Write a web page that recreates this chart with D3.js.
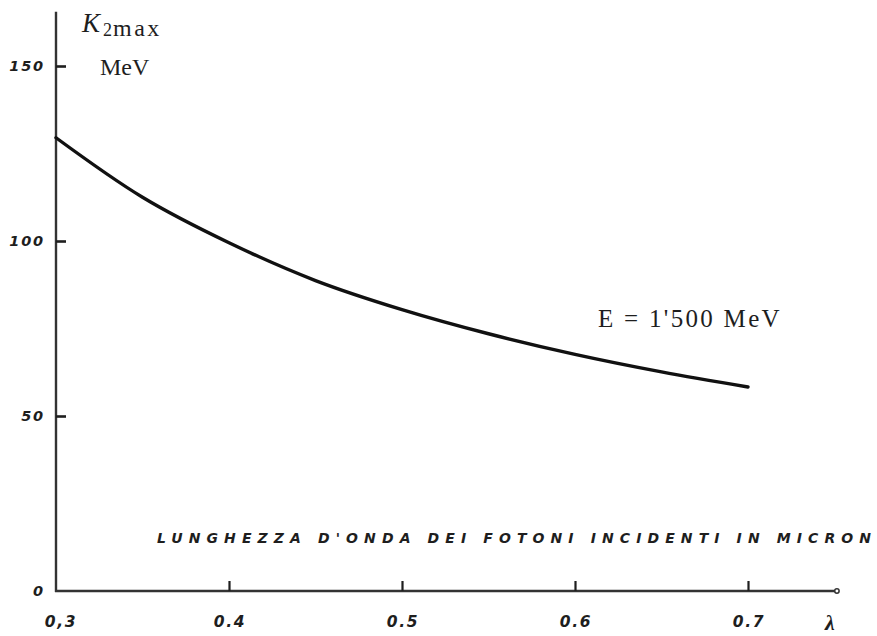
<!DOCTYPE html>
<html>
<head>
<meta charset="utf-8">
<script src="https://cdn.jsdelivr.net/npm/d3@7"></script>
<style>
  html, body { margin: 0; padding: 0; background: #fff; }
  svg { display: block; }
</style>
</head>
<body>
<svg id="chart" width="877" height="636"></svg>
<script>
// ---- data ----
const lambdaValues = [0.30, 0.35, 0.40, 0.45, 0.50, 0.55, 0.60, 0.65, 0.70];
const k2maxValues  = [129.5, 112.5, 99.5, 88.7, 80.4, 73.5, 67.6, 62.6, 58.3];
const xTickValues  = [0.3, 0.4, 0.5, 0.6, 0.7];
const xTickLabels  = ["0,3", "0.4", "0.5", "0.6", "0.7"];
const yTickValues  = [0, 50, 100, 150];
const yTickLabels  = ["0", "50", "100", "150"];
const xAxisTitle   = "LUNGHEZZA D'ONDA DEI FOTONI INCIDENTI IN MICRON";
const curveLabel   = "E = 1'500 MeV";

const svg = d3.select("#chart");
const ink = "#1e1e1e";

const x = d3.scaleLinear().domain([0.3, 0.7]).range([56, 748]);
const y = d3.scaleLinear().domain([0, 150]).range([591, 66]);

// axis lines
svg.append("line")
  .attr("x1", x(0.3)).attr("x2", x(0.3))
  .attr("y1", y(165.5)).attr("y2", y(0) + 1)
  .attr("stroke", "#333").attr("stroke-width", 2.4);
svg.append("line")
  .attr("x1", x(0.3) - 1).attr("x2", x(0.7514))
  .attr("y1", y(0)).attr("y2", y(0))
  .attr("stroke", "#333").attr("stroke-width", 2.4);
svg.append("circle")
  .attr("cx", x(0.7514)).attr("cy", y(0)).attr("r", 2.2)
  .attr("fill", "#fff").attr("stroke", "#333").attr("stroke-width", 1.5);

// y ticks (inside, to the right of the axis)
const yAxis = d3.axisRight(y).tickValues(yTickValues.filter(v => v > 0))
  .tickSize(10).tickFormat("");
const gy = svg.append("g").attr("transform", `translate(${x(0.3)},0)`).call(yAxis);
gy.select(".domain").remove();
gy.selectAll(".tick line").attr("stroke", ink).attr("stroke-width", 2.6);

// x ticks (upward)
const xAxis = d3.axisTop(x).tickValues(xTickValues.filter(v => v > 0.3))
  .tickSize(10).tickFormat("");
const gx = svg.append("g").attr("transform", `translate(0,${y(0)})`).call(xAxis);
gx.select(".domain").remove();
gx.selectAll(".tick line").attr("stroke", ink).attr("stroke-width", 2.2);

// y tick labels
svg.append("g").selectAll("text")
  .data(yTickValues)
  .join("text")
  .attr("x", 45)
  .attr("y", d => y(d) + 5)
  .attr("text-anchor", "end")
  .attr("font-family", "DejaVu Sans")
  .attr("font-weight", "bold")
  .attr("font-style", "italic")
  .attr("font-size", 14.5)
  .attr("letter-spacing", 1.8)
  .attr("fill", ink)
  .text((d, i) => yTickLabels[i]);

// x tick labels
svg.append("g").selectAll("text")
  .data(xTickValues)
  .join("text")
  .attr("x", (d, i) => x(d) + (i === 0 ? 5 : 1))
  .attr("y", 627)
  .attr("text-anchor", "middle")
  .attr("font-family", "DejaVu Sans")
  .attr("font-weight", "bold")
  .attr("font-style", "italic")
  .attr("font-size", 15.5)
  .attr("letter-spacing", 1.6)
  .attr("fill", ink)
  .text((d, i) => xTickLabels[i]);

// lambda symbol
svg.append("text")
  .attr("x", 830).attr("y", 630)
  .attr("text-anchor", "middle")
  .attr("font-family", "Liberation Serif")
  .attr("font-weight", "bold")
  .attr("font-style", "italic")
  .attr("font-size", 22)
  .attr("fill", ink)
  .text("λ");

// x-axis title
svg.append("text")
  .attr("x", 157).attr("y", 543)
  .attr("font-family", "DejaVu Sans")
  .attr("font-weight", "bold")
  .attr("font-style", "italic")
  .attr("font-size", 14)
  .attr("textLength", 714)
  .attr("lengthAdjust", "spacing")
  .attr("fill", ink)
  .text(xAxisTitle);

// y-axis title: K2max / MeV
const kt = svg.append("text")
  .attr("x", 82).attr("y", 32)
  .attr("font-family", "Liberation Serif")
  .attr("fill", ink);
kt.append("tspan").attr("font-size", 27).attr("font-style", "italic").text("K");
kt.append("tspan").attr("font-size", 18).attr("dy", 4).attr("dx", 3).text("2");
kt.append("tspan").attr("font-size", 24).attr("dx", 1).attr("letter-spacing", 2.5).text("max");

svg.append("text")
  .attr("x", 100).attr("y", 75)
  .attr("font-family", "Liberation Serif")
  .attr("font-size", 24)
  .attr("fill", ink)
  .text("MeV");

// curve label
svg.append("text")
  .attr("x", 598).attr("y", 327)
  .attr("font-family", "Liberation Serif")
  .attr("font-size", 25)
  .attr("letter-spacing", 2.3)
  .attr("fill", ink)
  .text(curveLabel);

// the curve
const line = d3.line()
  .x((d, i) => x(lambdaValues[i]))
  .y(d => y(d))
  .curve(d3.curveCatmullRom.alpha(0.5));
svg.append("path")
  .datum(k2maxValues)
  .attr("d", line)
  .attr("fill", "none")
  .attr("stroke", "#111")
  .attr("stroke-width", 3.4)
  .attr("stroke-linecap", "round");
</script>
</body>
</html>
